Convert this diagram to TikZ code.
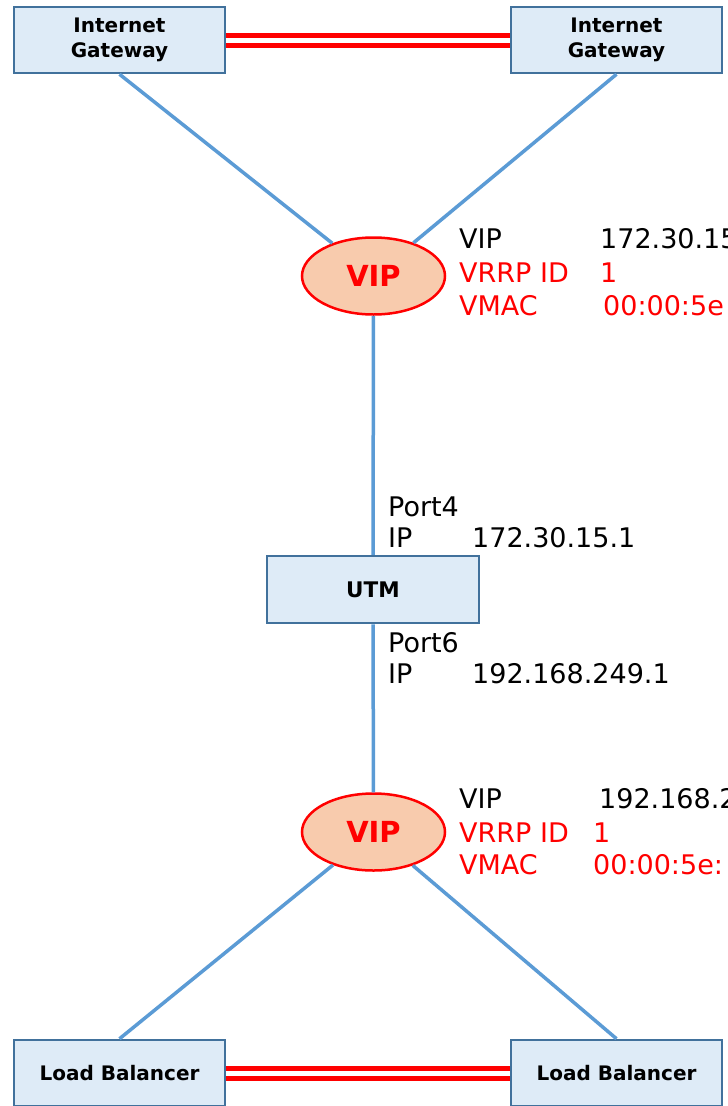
\documentclass[tikz,border=0pt]{standalone}
\usepackage{fontspec}
\setmainfont{DejaVu Sans}
\usetikzlibrary{shapes.geometric}

\definecolor{boxfill}{HTML}{DEEBF7}
\definecolor{boxline}{HTML}{41719C}
\definecolor{linkblue}{HTML}{5B9BD5}
\definecolor{vipfill}{HTML}{F8CBAD}
\definecolor{vrrpred}{HTML}{FF0000}

\tikzset{
  devbox/.style={draw=boxline, fill=boxfill, line width=2.5pt,
    minimum width=211pt, minimum height=66pt, inner sep=0pt, align=center,
    font=\fontsize{20}{25}\selectfont\bfseries},
  vipnode/.style={ellipse, draw=vrrpred, fill=vipfill, line width=2.5pt,
    minimum width=143pt, minimum height=77pt, inner sep=0pt, text=vrrpred,
    font=\fontsize{29}{32}\selectfont\bfseries},
  uplink/.style={draw=linkblue, line width=3.5pt},
  sync/.style={draw=vrrpred, line width=5pt},
  info/.style={anchor=base west, inner sep=0pt, font=\fontsize{27}{33}\selectfont},
  hot/.style={info, text=vrrpred}
}

\begin{document}
\begin{tikzpicture}[x=1pt, y=-1pt]
  \useasboundingbox (0,0) rectangle (728,1106);

  % devices
  \node[devbox] (igwA) at (119.5,40) {Internet\\Gateway};
  \node[devbox] (igwB) at (616.5,40) {Internet\\Gateway};
  \node[vipnode] (vipA) at (373.5,276) {VIP};
  \node[devbox, minimum width=212pt, minimum height=67pt,
        font=\fontsize{21.5}{25}\selectfont\bfseries] (utm) at (373,589.5) {UTM};
  \node[vipnode] (vipB) at (373.5,832) {VIP};
  \node[devbox] (lbA) at (119.5,1073) {Load Balancer};
  \node[devbox] (lbB) at (616.5,1073) {Load Balancer};

  % links
  \draw[uplink] (igwA.south) -- (vipA);
  \draw[uplink] (igwB.south) -- (vipA);
  \draw[uplink] (vipA) -- (utm);
  \draw[uplink] (utm) -- (vipB);
  \draw[uplink] (vipB) -- (lbA.north);
  \draw[uplink] (vipB) -- (lbB.north);

  % HA sync pairs
  \draw[sync] ([yshift=5pt]igwA.east) -- ([yshift=5pt]igwB.west);
  \draw[sync] ([yshift=-5pt]igwA.east) -- ([yshift=-5pt]igwB.west);
  \draw[sync] ([yshift=5pt]lbA.east) -- ([yshift=5pt]lbB.west);
  \draw[sync] ([yshift=-5pt]lbA.east) -- ([yshift=-5pt]lbB.west);

  % upper VRRP group
  \node[info] (vipA-key) at (459,248) {VIP};
  \node[info] (vipA-val) at (600,248) {172.30.15};
  \node[hot] (vridA-key) at (459,282) {VRRP ID};
  \node[hot] (vridA-val) at (600,282) {1};
  \node[hot] (vmacA-key) at (459,315) {VMAC};
  \node[hot] (vmacA-val) at (603,315) {00:00:5e};

  % UTM ports
  \node[info] (p4-name) at (388,516) {Port4};
  \node[info] (p4-key) at (388,547) {IP};
  \node[info] (p4-val) at (472,547) {172.30.15.1};
  \node[info] (p6-name) at (388,652) {Port6};
  \node[info] (p6-key) at (388,683) {IP};
  \node[info] (p6-val) at (472,683) {192.168.249.1};

  % lower VRRP group
  \node[info] (vipB-key) at (459,808) {VIP};
  \node[info] (vipB-val) at (599,808) {192.168.2};
  \node[hot] (vridB-key) at (459,842) {VRRP ID};
  \node[hot] (vridB-val) at (593,842) {1};
  \node[hot] (vmacB-key) at (459,874) {VMAC};
  \node[hot] (vmacB-val) at (593,874) {00:00:5e:};
\end{tikzpicture}
\end{document}
